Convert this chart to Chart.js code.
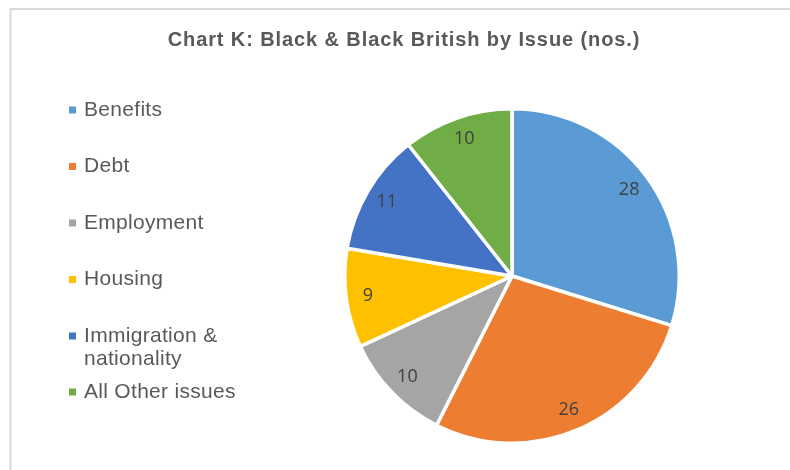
<!DOCTYPE html>
<html>
<head>
<meta charset="utf-8">
<title>Chart K</title>
<script src="https://cdn.jsdelivr.net/npm/chart.js@4/dist/chart.umd.min.js"></script>
<style>
  html, body { margin: 0; padding: 0; background: #fff; }
  #myChart { display: block; }
</style>
</head>
<body>
<canvas id="myChart" width="790" height="470"></canvas>
<script>
'use strict';

let chartTitle = 'Chart K: Black & Black British by Issue (nos.)';
let issueNames = ['Benefits', 'Debt', 'Employment', 'Housing', 'Immigration & nationality', 'All Other issues'];
// legend text, split where it wraps
let legendLines = [['Benefits'], ['Debt'], ['Employment'], ['Housing'], ['Immigration &', 'nationality'], ['All Other issues']];
let issueCounts = [28, 26, 10, 9, 11, 10];
let sliceColors = ['#5B9BD5', '#ED7D31', '#A5A5A5', '#FFC000', '#4472C4', '#70AD47'];

// frame, title and legend drawn by hand
let frameAndLegend = {
  id: 'frameAndLegend',
  beforeDraw: function (chart) {
    let ctx = chart.ctx;
    ctx.save();
    ctx.fillStyle = '#ffffff';
    ctx.fillRect(0, 0, chart.width, chart.height);
    ctx.strokeStyle = '#d9d9d9';
    ctx.lineWidth = 2;
    ctx.beginPath();
    ctx.moveTo(10.5, chart.height);
    ctx.lineTo(10.5, 9);
    ctx.lineTo(chart.width, 9);
    ctx.stroke();
    ctx.restore();
  },
  afterDraw: function (chart) {
    let ctx = chart.ctx;
    ctx.save();
    ctx.fillStyle = '#595959';
    ctx.font = 'bold 20px "Liberation Sans", Arial, sans-serif';
    ctx.letterSpacing = '0.9px';
    ctx.textAlign = 'center';
    ctx.textBaseline = 'middle';
    ctx.fillText(chartTitle, 404, 40);

    ctx.font = '21px "Liberation Sans", Arial, sans-serif';
    ctx.letterSpacing = '0.3px';
    ctx.textAlign = 'left';
    let y = 110;
    for (let i = 0; i < legendLines.length; i++) {
      ctx.fillStyle = sliceColors[i];
      ctx.fillRect(69, y - 3.5, 7, 7);
      ctx.fillStyle = '#595959';
      for (let j = 0; j < legendLines[i].length; j++) {
        ctx.fillText(legendLines[i][j], 84, y + j * 23);
      }
      y += i === 4 ? 56 : 56.5;
    }
    ctx.restore();
  }
};

// value labels inside each slice
let sliceLabels = {
  id: 'sliceLabels',
  afterDatasetsDraw: function (chart) {
    let ctx = chart.ctx;
    let arcs = chart.getDatasetMeta(0).data;
    ctx.save();
    ctx.fillStyle = '#404040';
    ctx.font = '18px "Open Sans", "Liberation Sans", sans-serif';
    ctx.textAlign = 'center';
    ctx.textBaseline = 'middle';
    arcs.forEach(function (arc, i) {
      let mid = (arc.startAngle + arc.endAngle) / 2;
      let r = arc.outerRadius * 0.87;
      ctx.fillText(String(issueCounts[i]), arc.x + Math.cos(mid) * r, arc.y + Math.sin(mid) * r);
    });
    ctx.restore();
  }
};

let ctx = document.getElementById('myChart').getContext('2d');
let chart = new Chart(ctx, {
  type: 'pie',
  data: {
    labels: issueNames,
    datasets: [{
      data: issueCounts,
      backgroundColor: sliceColors,
      borderColor: '#ffffff',
      borderWidth: 3.5
    }]
  },
  options: {
    responsive: false,
    animation: false,
    layout: {
      padding: { left: 343, right: 109, top: 107, bottom: 25 }
    },
    plugins: {
      legend: { display: false },
      title: { display: false },
      tooltip: { enabled: false }
    }
  },
  plugins: [frameAndLegend, sliceLabels]
});
</script>
</body>
</html>
